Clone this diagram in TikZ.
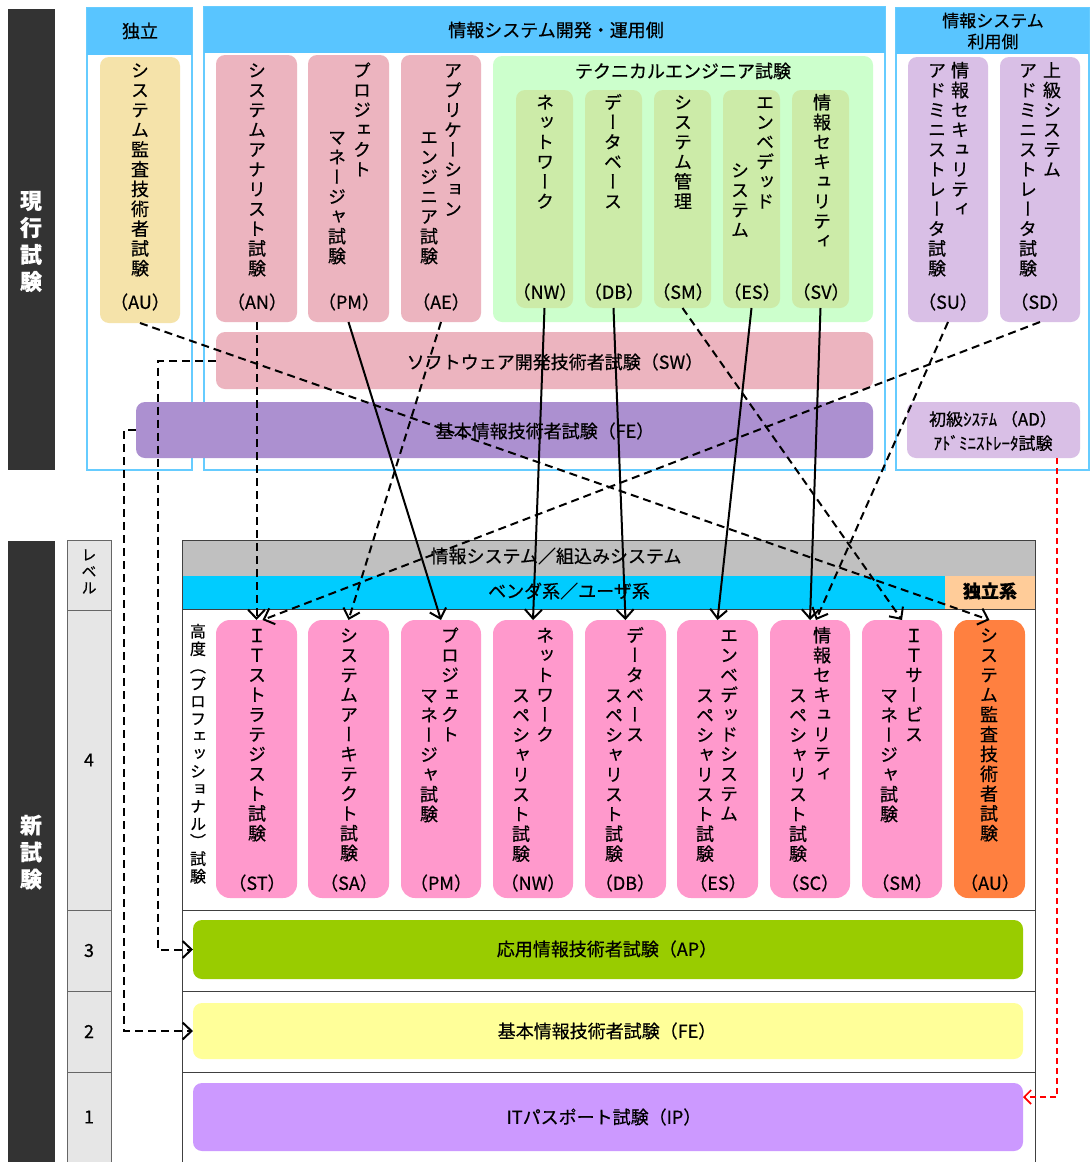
\documentclass[tikz,border=0pt]{standalone}
\usepackage{fontspec}
\setmainfont{Noto Sans CJK JP}[FakeBold=0.5]
\newfontfamily\vjp{Noto Sans CJK JP}[Script=CJK,RawFeature=+vert,FakeBold=0.5]
\usetikzlibrary{arrows.meta,calc}

\definecolor{cDark}{HTML}{333333}
\definecolor{cGrp}{HTML}{66CCFF}
\definecolor{cHdr}{HTML}{59C5FF}
\definecolor{cOY}{HTML}{F5E3AA}
\definecolor{cOP}{HTML}{ECB4BF}
\definecolor{cOG}{HTML}{CCFFCC}
\definecolor{cOGs}{HTML}{CCEBA8}
\definecolor{cOV}{HTML}{AC90D0}
\definecolor{cOL}{HTML}{D9BFE6}
\definecolor{cGray}{HTML}{C0C0C0}
\definecolor{cCyan}{HTML}{00CCFF}
\definecolor{cOra}{HTML}{FFCC99}
\definecolor{cPink}{HTML}{FF99CC}
\definecolor{cAU}{HTML}{FF8040}
\definecolor{cAP}{HTML}{99CC00}
\definecolor{cFE}{HTML}{FFFF99}
\definecolor{cIP}{HTML}{CC99FF}
\definecolor{cLvl}{HTML}{E6E6E6}

\newdimen\vgap
\def\vtEnd{\vtEnd}
\newcommand\vtext[2][1.8pt]{\vbox{\offinterlineskip\vgap=#1\relax\vjp\kern-\vgap\vtA#2\vtEnd}}
\def\vtA#1{\ifx\vtEnd#1\else\kern\vgap\hbox to 1em{\hss\vrule height .88em depth .12em width 0pt\relax #1\hss}\expandafter\vtA\fi}

\newcommand\mkbox[6]{%
  \pgfmathsetmacro\bxw{#4-#2}\pgfmathsetmacro\bxh{#5-#3}%
  \pgfmathsetmacro\bxx{(#2+#4)/2}\pgfmathsetmacro\bxy{(#3+#5)/2}%
  \node[#1, minimum width=\bxw pt, minimum height=\bxh pt] (#6) at (\bxx,\bxy) {};}

\begin{document}
\begin{tikzpicture}[x=1pt,y=-1pt,
  bx/.style={inner sep=0pt, outer sep=0pt, draw=none},
  dark/.style={bx, fill=cDark},
  grp/.style={bx, draw=cGrp, line width=1.2pt},
  hdr/.style={bx, fill=cHdr},
  rb/.style={bx, rounded corners=9pt},
  nb/.style={bx, rounded corners=14pt},
  cell/.style={bx, draw=black!75, line width=1pt},
  lvcell/.style={bx, fill=cLvl, draw=black!60, line width=1pt},
  vt/.style={inner sep=0pt, anchor=north, font=\fontsize{18}{20}\selectfont},
  lab/.style={inner sep=0pt, font=\fontsize{18}{20}\selectfont},
  big/.style={inner sep=0pt, text=white, font=\fontsize{22}{24}\selectfont\bfseries},
  sol/.style={line width=2pt, -{Straight Barb[length=9pt,width=17pt]}},
  dsh/.style={sol, dash pattern=on 8pt off 5pt},
  rdsh/.style={line width=1.6pt, draw=red, dash pattern=on 6pt off 4pt, -{Straight Barb[length=7pt,width=14pt]}}
]
\useasboundingbox (0,0) rectangle (1090,1162);
\fill[white] (0,0) rectangle (1090,1162);

% ===== current exams =====
\mkbox{dark}{8}{9}{55}{470}{curBar}
\node[big, anchor=center] (curTxt) at (31,241) {\vtext[5pt]{現行試験}};

\mkbox{grp}{87}{8}{192}{470}{gInd}
\mkbox{hdr}{87}{8}{192}{55}{hInd}
\node[lab] (hIndT) at (140,31) {独立};
\mkbox{grp}{204}{7}{885}{470}{gDev}
\mkbox{hdr}{204}{7}{885}{53}{hDev}
\node[lab] (hDevT) at (556,30) {情報システム開発・運用側};
\mkbox{grp}{896}{8}{1089}{470}{gUse}
\mkbox{hdr}{896}{8}{1089}{54}{hUse}
\node[lab, align=center, font=\fontsize{17}{21}\selectfont] (hUseT) at (993,31) {情報システム\\利用側};

\mkbox{rb, fill=cOY}{100}{57}{180}{323}{oAU}
\mkbox{rb, fill=cOP}{216}{55}{297}{322}{oAN}
\mkbox{rb, fill=cOP}{308}{55}{389}{322}{oPM}
\mkbox{rb, fill=cOP}{401}{55}{481}{322}{oAE}
\mkbox{rb, fill=cOG}{493}{56}{873}{322}{oTE}
\mkbox{rb, fill=cOGs}{516}{90}{573}{308}{oNW}
\mkbox{rb, fill=cOGs}{585}{90}{642}{308}{oDB}
\mkbox{rb, fill=cOGs}{654}{90}{711}{308}{oSM}
\mkbox{rb, fill=cOGs}{723}{90}{780}{308}{oES}
\mkbox{rb, fill=cOGs}{792}{90}{849}{308}{oSV}
\mkbox{rb, fill=cOP}{216}{332}{873}{389}{oSW}
\mkbox{rb, fill=cOV}{136}{402}{873}{458}{oFE}
\mkbox{rb, fill=cOL}{908}{57}{988}{322}{oSU}
\mkbox{rb, fill=cOL}{1000}{57}{1080}{322}{oSD}
\mkbox{rb, fill=cOL}{907}{402}{1080}{458}{oAD}

\node[vt] (tAU) at (140,61) {\vtext{システム監査技術者試験}};
\node[vt] (tAN) at (257,61) {\vtext{システムアナリスト試験}};
\node[vt] (tPM1) at (362,61) {\vtext{プロジェクト}};
\node[vt] (tPM2) at (337,128) {\vtext{マネージャ試験}};
\node[vt] (tAE1) at (453,61) {\vtext{アプリケーション}};
\node[vt] (tAE2) at (429,128) {\vtext{エンジニア試験}};
\node[lab] (tTE) at (683,71) {テクニカルエンジニア試験};
\node[vt] (tNW) at (545,93) {\vtext{ネットワーク}};
\node[vt] (tDB) at (613,93) {\vtext{データベース}};
\node[vt] (tSM) at (683,93) {\vtext{システム管理}};
\node[vt] (tES1) at (765,93) {\vtext{エンベデッド}};
\node[vt] (tES2) at (740,161) {\vtext{システム}};
\node[vt] (tSV) at (822,93) {\vtext{情報セキュリティ}};
\node[vt] (tSU1) at (960,61) {\vtext{情報セキュリティ}};
\node[vt] (tSU2) at (937,61) {\vtext{アドミニストレータ試験}};
\node[vt] (tSD1) at (1052,61) {\vtext{上級システム}};
\node[vt] (tSD2) at (1028,61) {\vtext{アドミニストレータ試験}};

\node[lab] (aAU) at (140,302) {（AU）};
\node[lab] (aAN) at (257,302) {（AN）};
\node[lab] (aPM) at (349,302) {（PM）};
\node[lab] (aAE) at (441,302) {（AE）};
\node[lab] (aNW) at (545,292) {（NW）};
\node[lab] (aDB) at (614,292) {（DB）};
\node[lab] (aSM) at (683,292) {（SM）};
\node[lab] (aES) at (752,292) {（ES）};
\node[lab] (aSV) at (821,292) {（SV）};
\node[lab] (aSU) at (948,302) {（SU）};
\node[lab] (aSD) at (1040,302) {（SD）};

\node[lab] (tSW) at (555,362) {ソフトウェア開発技術者試験（SW）};
\node[lab] (tFEo) at (545,431) {基本情報技術者試験（FE）};
\node[lab, align=center, font=\fontsize{17}{24}\selectfont] (tAD) at (993,431) {初級ｼｽﾃﾑ （AD）\\ｱﾄﾞﾐﾆｽﾄﾚｰﾀ試験};

% ===== new exams =====
\mkbox{dark}{8}{541}{55}{1162}{newBar}
\node[big, anchor=center] (newTxt) at (31,852) {\vtext[5pt]{新試験}};

\mkbox{lvcell}{67}{540}{111}{610}{lv0}
\mkbox{lvcell}{67}{610}{111}{910}{lv4}
\mkbox{lvcell}{67}{910}{111}{991}{lv3}
\mkbox{lvcell}{67}{991}{111}{1072}{lv2}
\mkbox{lvcell}{67}{1072}{111}{1162}{lv1}
\node[vt, font=\fontsize{15}{17}\selectfont] (lv0T) at (89,547) {\vtext[1.5pt]{レベル}};
\node[lab] (lv4T) at (lv4) {4};
\node[lab] (lv3T) at (lv3) {3};
\node[lab] (lv2T) at (lv2) {2};
\node[lab] (lv1T) at (lv1) {1};

\mkbox{cell}{182}{609}{1035}{910}{r4}
\mkbox{cell}{182}{910}{1035}{991}{r3}
\mkbox{cell}{182}{991}{1035}{1072}{r2}
\mkbox{cell}{182}{1072}{1035}{1162}{r1}
\mkbox{bx, fill=cGray}{182}{540}{1035}{576}{barGray}
\mkbox{bx, fill=cCyan}{182}{576}{945}{609}{barCyan}
\mkbox{bx, fill=cOra}{945}{576}{1035}{609}{barOra}
\draw[black!75, line width=1pt] (barGray.north west) rectangle (barOra.south east);
\draw[black!75, line width=1pt] (barCyan.south west) -- (barOra.south east);
\node[lab] (tGray) at (556,556) {情報システム／組込みシステム};
\node[lab] (tCyan) at (569,591) {ベンダ系／ユーザ系};
\node[lab, font=\fontsize{18}{20}\selectfont\bfseries] (tOra) at (990,591) {独立系};

\node[vt, font=\fontsize{16}{18}\selectfont] (tAdv) at (198,623) {\vtext[1.5pt]{高度（プロフェッショナル）試験}};

\mkbox{nb, fill=cPink}{216}{620}{297}{898}{nST}
\mkbox{nb, fill=cPink}{308}{620}{389}{898}{nSA}
\mkbox{nb, fill=cPink}{401}{620}{481}{898}{nPM}
\mkbox{nb, fill=cPink}{493}{620}{573}{898}{nNW}
\mkbox{nb, fill=cPink}{585}{620}{666}{898}{nDB}
\mkbox{nb, fill=cPink}{677}{620}{758}{898}{nES}
\mkbox{nb, fill=cPink}{770}{620}{850}{898}{nSC}
\mkbox{nb, fill=cPink}{862}{620}{942}{898}{nSM}
\mkbox{nb, fill=cAU}{954}{620}{1025}{898}{nAU}

\node[vt] (uST) at (257,626) {\vtext{ＩＴストラテジスト試験}};
\node[vt] (uSA) at (349,626) {\vtext{システムアーキテクト試験}};
\node[vt] (uPM1) at (450,626) {\vtext{プロジェクト}};
\node[vt] (uPM2) at (429,686) {\vtext{マネージャ試験}};
\node[vt] (uNW1) at (545,626) {\vtext{ネットワーク}};
\node[vt] (uNW2) at (521,686) {\vtext{スペシャリスト試験}};
\node[vt] (uDB1) at (635,626) {\vtext{データベース}};
\node[vt] (uDB2) at (614,686) {\vtext{スペシャリスト試験}};
\node[vt] (uES1) at (729,626) {\vtext{エンベデッドシステム}};
\node[vt] (uES2) at (705,686) {\vtext{スペシャリスト試験}};
\node[vt] (uSC1) at (822,626) {\vtext{情報セキュリティ}};
\node[vt] (uSC2) at (798,686) {\vtext{スペシャリスト試験}};
\node[vt] (uSM1) at (914,626) {\vtext{ＩＴサービス}};
\node[vt] (uSM2) at (889,686) {\vtext{マネージャ試験}};
\node[vt] (uAU) at (989,626) {\vtext{システム監査技術者試験}};

\node[lab] (bST) at (257,883) {（ST）};
\node[lab] (bSA) at (349,883) {（SA）};
\node[lab] (bPM) at (441,883) {（PM）};
\node[lab] (bNW) at (533,883) {（NW）};
\node[lab] (bDB) at (625,883) {（DB）};
\node[lab] (bES) at (718,883) {（ES）};
\node[lab] (bSC) at (810,883) {（SC）};
\node[lab] (bSM) at (902,883) {（SM）};
\node[lab] (bAU) at (990,883) {（AU）};

\mkbox{rb, fill=cAP}{193}{920}{1023}{979}{nAP}
\mkbox{rb, fill=cFE}{193}{1003}{1023}{1059}{nFE}
\mkbox{rb, fill=cIP}{193}{1083}{1023}{1151}{nIP}
\node[lab] (tAP) at (607,949) {応用情報技術者試験（AP）};
\node[lab] (tFEn) at (607,1031) {基本情報技術者試験（FE）};
\node[lab] (tIP) at (604,1117) {ITパスポート試験（IP）};

% ===== connectors =====
\draw[dsh] (oAU.south) -- (nAU.north);
\draw[dsh] (oAN.south) -- (nST.north);
\draw[sol] (oPM.south) -- (nPM.north);
\draw[dsh] (oAE.south) -- (nSA.north);
\draw[sol] (oNW.south) -- (nNW.north);
\draw[sol] (oDB.south) -- (nDB.north);
\draw[dsh] (oSM.south) -- (nSM.north);
\draw[sol] (oES.south) -- (nES.north);
\draw[sol] (oSV.south) -- (nSC.north);
\draw[dsh] (oSU.south) -- ($(nSC.north)+(6,0)$);
\draw[dsh] (oSD.south) -- ($(nST.north)+(6,0)$);
\draw[dsh] (oSW.west) -- ++(-58,0) |- (nAP.west);
\draw[dsh] (oFE.west) -- ++(-12,0) |- (nFE.west);
\draw[rdsh] ($(oAD.south east)+(-23,0)$) |- ($(nIP.east)+(0,-20)$);
\end{tikzpicture}
\end{document}
